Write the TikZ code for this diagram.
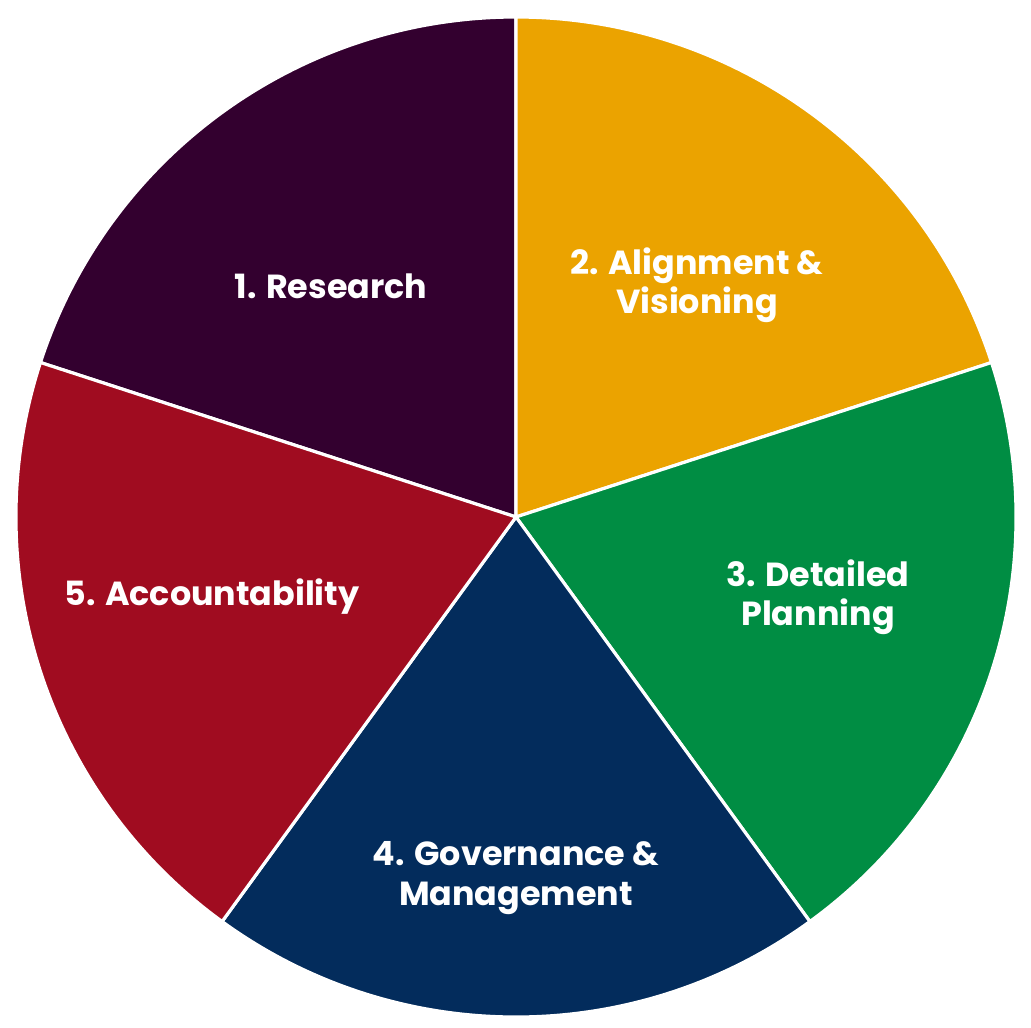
\documentclass[tikz,border=0pt]{standalone}
\usepackage{fontspec}
\setmainfont{Poppins}
\definecolor{cPurple}{HTML}{33002F}
\definecolor{cGold}{HTML}{EBA300}
\definecolor{cGreen}{HTML}{008D43}
\definecolor{cNavy}{HTML}{032C5C}
\definecolor{cRed}{HTML}{A00C20}
\tikzset{
 slice/.style={draw=white,line width=1.8pt,line join=round},
 lbl/.style={text=white,font=\fontsize{19}{22.5}\selectfont\bfseries,align=center},
}
\begin{document}
\begin{tikzpicture}
 \useasboundingbox (-10.32,-10.2) rectangle (10.30,10.34);
 \coordinate (O) at (0,0);
 \filldraw[slice,fill=cPurple] (O)--(90:10) arc (90:162:10)--cycle; % <<< 1
 \filldraw[slice,fill=cGold] (O)--(18:10) arc (18:90:10)--cycle; % <<< 2
 \filldraw[slice,fill=cGreen] (O)--(-54:10) arc (-54:18:10)--cycle; % <<< 3
 \filldraw[slice,fill=cNavy] (O)--(-126:10) arc (-126:-54:10)--cycle; % <<< 4
 \filldraw[slice,fill=cRed] (O)--(162:10) arc (162:234:10)--cycle; % <<< 5
 \path
 (-3.70,4.62) node[lbl] (research) {1. Research}
 (3.62,4.64) node[lbl] (align) {2. Alignment \&\\Visioning}
 (6.04,-1.60) node[lbl] (plan) {3. Detailed\\Planning}
 (0,-7.22) node[lbl] (gov) {4. Governance \&\\Management}
 (-6.08,-1.60) node[lbl] (acc) {5. Accountability};
\end{tikzpicture}
\end{document}
